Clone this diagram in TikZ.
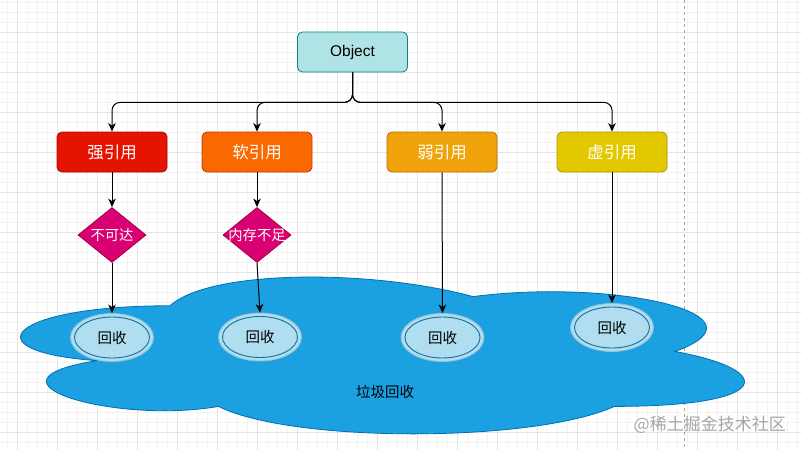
\documentclass[tikz,border=0pt]{standalone}
\usepackage{fontspec}
\setmainfont{Liberation Sans}
\newfontfamily\cjk{Noto Sans CJK SC}
\usetikzlibrary{shapes.geometric,arrows.meta}
\definecolor{gridmajor}{HTML}{E3E3E3}
\definecolor{gridminor}{HTML}{F3F3F3}
\definecolor{objfill}{HTML}{B0E3E6}
\definecolor{objdraw}{HTML}{0E8088}
\definecolor{redfill}{HTML}{E51400}
\definecolor{reddraw}{HTML}{B20000}
\definecolor{orafill}{HTML}{FA6800}
\definecolor{oradraw}{HTML}{C73500}
\definecolor{ambfill}{HTML}{F0A30A}
\definecolor{ambdraw}{HTML}{BD7000}
\definecolor{yelfill}{HTML}{E3C800}
\definecolor{yeldraw}{HTML}{B09500}
\definecolor{magfill}{HTML}{D80073}
\definecolor{magdraw}{HTML}{A50040}
\definecolor{cloudfill}{HTML}{1BA1E2}
\definecolor{clouddraw}{HTML}{006EAF}
\definecolor{ellfill}{HTML}{B1DDF0}
\definecolor{elldraw}{HTML}{10739E}
\tikzset{
  refbox/.style={rectangle, rounded corners=5pt, minimum width=110pt, minimum height=40pt, line width=0.8pt, inner sep=0pt, text=white, font=\cjk\fontsize{16.5}{16.5}\selectfont},
  diabox/.style={diamond, fill=magfill, draw=magdraw, line width=0.8pt, minimum width=68pt, minimum height=55pt, inner sep=0pt, aspect=1.24},
  diatext/.style={text=white, font=\cjk\fontsize{14.3}{14.3}\selectfont, inner sep=0pt},
  recyc/.style={ellipse, fill=ellfill, draw=elldraw!45, line width=0.9pt, minimum width=83pt, minimum height=48pt, inner sep=0pt, font=\cjk\fontsize{14.5}{14.5}\selectfont},
  recycin/.style={draw=elldraw, line width=0.9pt},
  conn/.style={line width=1pt, -{Stealth[length=8.5pt,width=7.5pt,inset=2.5pt]}},
}
\begin{document}
\begin{tikzpicture}[x=1pt,y=-1pt]
\useasboundingbox (0,0) rectangle (801,450);
\fill[white] (0,0) rectangle (801,450);
% grid
\foreach \gx in {7,17,...,797} \draw[gridminor, line width=0.8pt] (\gx,0) -- (\gx,450);
\foreach \gy in {2,12,...,442} \draw[gridminor, line width=0.8pt] (0,\gy) -- (801,\gy);
\foreach \gx in {17,57,...,797} \draw[gridmajor, line width=0.9pt] (\gx,0) -- (\gx,450);
\foreach \gy in {32,72,...,432} \draw[gridmajor, line width=0.9pt] (0,\gy) -- (801,\gy);
\draw[gray!70, dashed, dash pattern=on 3pt off 3pt, line width=0.7pt] (684,0) -- (684,450);

% cloud
\begin{scope}[shift={(-32,260)}, x=808pt, y=-183pt]
\filldraw[fill=cloudfill, draw=clouddraw, line width=0.8pt]
 (0.25,0.25) .. controls (0.05,0.25) and (0,0.5) .. (0.16,0.55)
 .. controls (0,0.66) and (0.18,0.9) .. (0.31,0.8)
 .. controls (0.4,1) and (0.7,1) .. (0.8,0.8)
 .. controls (1,0.8) and (1,0.6) .. (0.875,0.5)
 .. controls (1,0.3) and (0.8,0.1) .. (0.625,0.2)
 .. controls (0.5,0.05) and (0.3,0.05) .. (0.25,0.25) -- cycle;
\end{scope}
\node[font=\cjk\fontsize{14.5}{14.5}\selectfont, inner sep=0pt] (gc) at (385,392) {垃圾回收};

% object
\node[refbox, fill=objfill, draw=objdraw, text=black, font=\fontsize{15.5}{15.5}\selectfont] (obj) at (352.5,52) {Object};
% reference boxes
\node[refbox, fill=redfill, draw=reddraw] (strong) at (112,152) {强引用};
\node[refbox, fill=orafill, draw=oradraw] (soft) at (257,152) {软引用};
\node[refbox, fill=ambfill, draw=ambdraw] (weak) at (442,152) {弱引用};
\node[refbox, fill=yelfill, draw=yeldraw] (phantom) at (612,152) {虚引用};
% diamonds
\node[diabox] (d1) at (112,235) {};
\node[diatext] (d1t) at (d1.center) {不可达};
\node[diabox] (d2) at (257,235) {};
\node[diatext] (d2t) at (d2.center) {内存不足};
% recycle ellipses
\node[recyc] (r1) at (112,337.5) {回收};
\node[recyc] (r2) at (260,337) {回收};
\node[recyc] (r3) at (442.5,337.5) {回收};
\node[recyc] (r4) at (612,327.5) {回收};
\foreach \r in {r1,r2,r3,r4} \draw[recycin] (\r.center) ellipse (37.5pt and 20.5pt);

% connectors
\foreach \t in {strong,soft,weak,phantom}
  \draw[conn, rounded corners=8pt] (obj.south) -- ++(0,30) -| (\t.north);
\draw[conn] (strong.south) -- (d1.north);
\draw[conn] (soft.south) -- (d2.north);
\draw[conn] (d1.south) -- (r1.north);
\draw[conn] (d2.south) -- (r2.north);
\draw[conn] (weak.south) -- (r3.north);
\draw[conn] (phantom.south) -- (r4.north);

% watermark
\node[font=\cjk\fontsize{17}{17}\selectfont, text=gray!70, inner sep=0pt, anchor=east] (wm) at (786,425) {@稀土掘金技术社区};
\end{tikzpicture}
\end{document}
